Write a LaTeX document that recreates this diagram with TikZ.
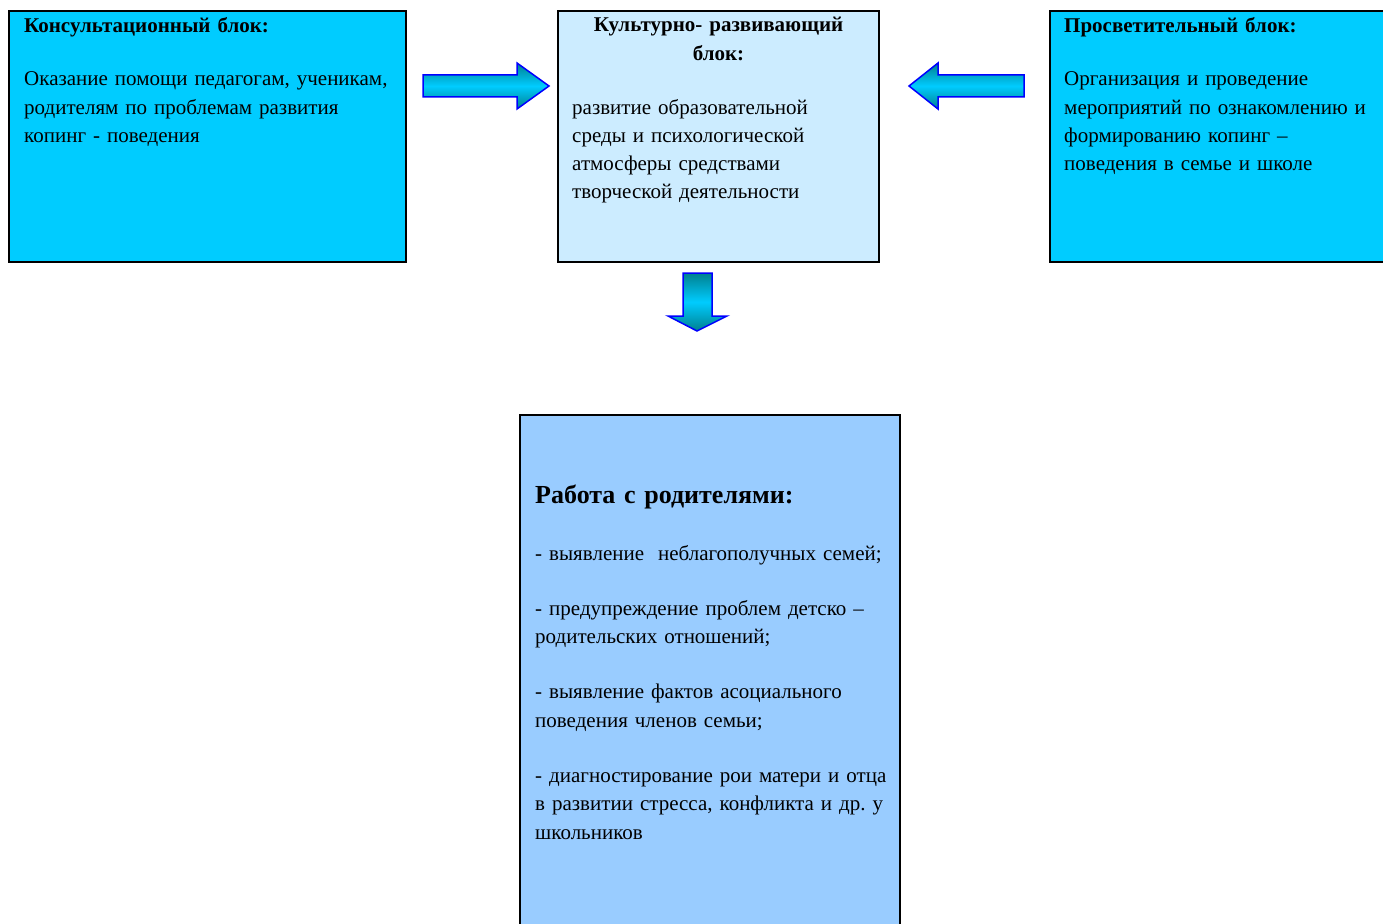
\documentclass[tikz,border=0pt]{standalone}
\usepackage{fontspec}
\setmainfont{Liberation Serif}
\usetikzlibrary{positioning}
\frenchspacing
\definecolor{blokcyan}{HTML}{00CCFF}
\definecolor{blokpale}{HTML}{CCECFF}
\definecolor{blokblue}{HTML}{99CCFF}
\definecolor{arrowteal}{HTML}{00808F}
\definecolor{arrowblue}{HTML}{0000FF}

\begin{document}
\begin{tikzpicture}[x=1pt, y=-1pt]

  \tikzset{BlockStyle/.style = {
  draw = black,
  line width = 2pt,
  inner sep = 0pt,
  outer sep = 0pt,
  anchor = north west}}
  \tikzset{TextStyle/.style = {
  inner sep = 0pt,
  anchor = base west,
  align = left,
  text width = 420pt,
  font = \fontsize{21pt}{28.3pt}\selectfont}}
  \tikzset{ArrowStyle/.style = {
  draw = arrowblue,
  line width = 1.5pt,
  line join = miter,
  top color = arrowteal,
  bottom color = arrowteal,
  middle color = blokcyan}}

  \clip (0,0) rectangle (1383,923);

  \node[BlockStyle, fill=blokcyan, minimum width=397pt, minimum height=251pt] (K) at (9,11) {};
  \node[TextStyle] (K1) at ([shift={(15,22)}]K.north west) {\bfseries Консультационный блок:};
  \node[TextStyle] (K2) at ([shift={(15,75)}]K.north west)
    {Оказание помощи педагогам, ученикам,\\родителям по проблемам развития\\копинг - поведения};

  \node[BlockStyle, fill=blokpale, minimum width=321pt, minimum height=251pt] (C) at (558,11) {};
  \node[TextStyle, anchor=base, align=center, text width=316pt] (C1) at ([shift={(0,21)}]C.north)
    {\bfseries Культурно- развивающий\\\bfseries блок:};
  \node[TextStyle] (C2) at ([shift={(14,103)}]C.north west)
    {развитие образовательной\\среды и психологической\\атмосферы средствами\\творческой деятельности};

  \node[BlockStyle, fill=blokcyan, minimum width=400pt, minimum height=251pt] (P) at (1050,11) {};
  \node[TextStyle] (P1) at ([shift={(14,22)}]P.north west) {\bfseries Просветительный блок:};
  \node[TextStyle] (P2) at ([shift={(14,75)}]P.north west)
    {Организация и проведение\\мероприятий по ознакомлению и\\формированию копинг –\\поведения в семье и школе};

  \node[BlockStyle, fill=blokblue, minimum width=380pt, minimum height=530pt] (R) at (520,415) {};
  \node[TextStyle, font=\fontsize{26pt}{28pt}\selectfont\bfseries] (R1) at ([shift={(15,88)}]R.north west)
    {Работа с родителями:};
  \node[TextStyle] (R2) at ([shift={(15,145)}]R.north west)
    {- выявление\ \ неблагополучных семей;\\[27pt]
     - предупреждение проблем детско –\\родительских отношений;\\[27pt]
     - выявление фактов асоциального\\поведения членов семьи;\\[27pt]
     - диагностирование рои матери и отца\\в развитии стресса, конфликта и др. у\\школьников};

  \draw[ArrowStyle] (423,75) -- (517,75) -- (517,63) -- (549,86) -- (517,109)
    -- (517,97) -- (423,97) -- cycle;
  \draw[ArrowStyle] (1024,75) -- (938,75) -- (938,63) -- (909,86) -- (938,109)
    -- (938,97) -- (1024,97) -- cycle;
  \draw[ArrowStyle] (683,273) -- (712,273) -- (712,316) -- (727,316) -- (697,331)
    -- (668,316) -- (683,316) -- cycle;

\end{tikzpicture}
\end{document}
